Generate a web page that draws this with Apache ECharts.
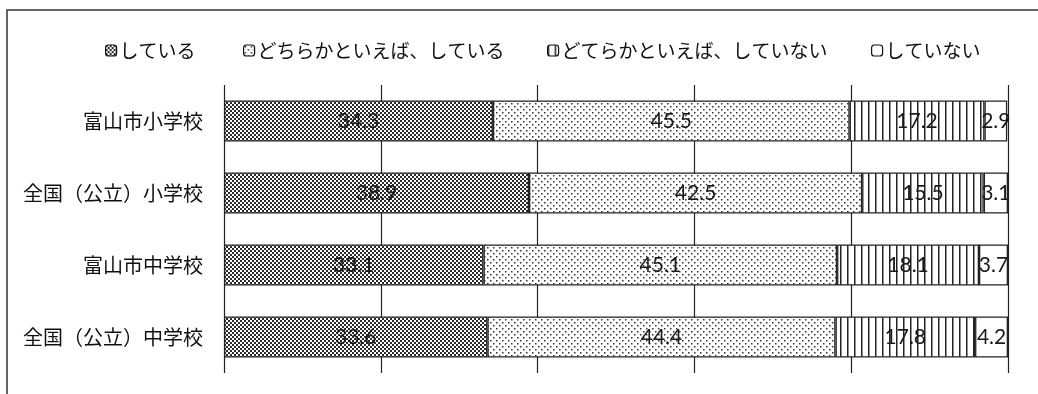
<!DOCTYPE html>
<html>
<head>
<meta charset="utf-8">
<script src="https://cdn.jsdelivr.net/npm/echarts@6/dist/echarts.min.js"></script>
<style>
html,body{margin:0;padding:0;background:#fff;}
#c{width:1038px;height:394px;}
</style>
</head>
<body>
<div id="c"></div>
<script>
// ---- data ----
const categories = ['富山市小学校', '全国（公立）小学校', '富山市中学校', '全国（公立）中学校'];
const seriesNames = ['している', 'どちらかといえば、している', 'どてらかといえば、していない', 'していない'];
const valuesDoing = [34.3, 38.9, 33.1, 33.6];
const valuesRatherDoing = [45.5, 42.5, 45.1, 44.4];
const valuesRatherNot = [17.2, 15.5, 18.1, 17.8];
const valuesNot = [2.9, 3.1, 3.7, 4.2];
const xTicks = [0, 20, 40, 60, 80, 100];

// ---- patterns ----
function makeCanvas(w, h, draw) {
  const c = document.createElement('canvas');
  c.width = w; c.height = h;
  const ctx = c.getContext('2d');
  ctx.fillStyle = '#fff';
  ctx.fillRect(0, 0, w, h);
  draw(ctx);
  return c;
}
const checker = makeCanvas(4, 4, ctx => {
  ctx.fillStyle = '#2a2a2a';
  ctx.fillRect(0, 0, 2, 2);
  ctx.fillRect(2, 2, 2, 2);
});
const dots = makeCanvas(6, 6, ctx => {
  ctx.fillStyle = '#333';
  ctx.fillRect(1, 1, 1.5, 1.5);
  ctx.fillRect(4, 4, 1.5, 1.5);
});
const vlines = makeCanvas(7, 4, ctx => {
  ctx.fillStyle = '#222';
  ctx.fillRect(0, 0, 1.5, 4);
});
const fills = [
  { image: checker, repeat: 'repeat' },
  { image: dots, repeat: 'repeat' },
  { image: vlines, repeat: 'repeat' },
  '#ffffff'
];
const allValues = [valuesDoing, valuesRatherDoing, valuesRatherNot, valuesNot];

const chart = echarts.init(document.getElementById('c'), null, { renderer: 'canvas' });

const legendLefts = [100, 238, 542, 866];
const legends = seriesNames.map((n, i) => ({
  data: [n],
  left: legendLefts[i],
  top: 36,
  itemWidth: 11,
  itemHeight: 11,
  itemStyle: { borderColor: '#111', borderWidth: 1.2 },
  textStyle: { fontFamily: 'Noto Sans CJK JP', fontSize: 19, color: '#111', padding: [0, 0, 0, -2] },
  selectedMode: false
}));

const series = seriesNames.map((n, i) => ({
  name: n,
  type: 'bar',
  stack: 'total',
  barWidth: '57%',
  data: allValues[i],
  itemStyle: { color: fills[i], borderColor: '#222', borderWidth: 1.3 },
  label: {
    show: true,
    position: 'inside',
    fontFamily: 'Lato',
    fontSize: 21,
    color: '#1a1a1a',
    formatter: p => p.value.toFixed(1)
  },
  emphasis: { disabled: true },
  animation: false
}));

chart.setOption({
  animation: false,
  backgroundColor: '#fff',
  legend: legends,
  grid: { left: 224, right: 30, top: 85, bottom: 21, containLabel: false },
  xAxis: {
    type: 'value',
    min: xTicks[0],
    max: xTicks[xTicks.length - 1],
    interval: xTicks[1] - xTicks[0],
    axisLabel: { show: false },
    axisTick: { show: false },
    axisLine: { show: false },
    splitLine: { show: true, lineStyle: { color: '#222', width: 1.2 } }
  },
  yAxis: {
    type: 'category',
    data: categories,
    inverse: true,
    axisLine: { show: false },
    axisTick: { show: false },
    axisLabel: { margin: 21, fontFamily: 'Noto Sans CJK JP', fontSize: 20, color: '#111' }
  },
  graphic: [{
    type: 'rect',
    shape: { x: 7, y: 10, width: 1200, height: 600 },
    style: { fill: 'none', stroke: '#333', lineWidth: 1.5 },
    silent: true
  }],
  series: series
});
</script>
</body>
</html>
